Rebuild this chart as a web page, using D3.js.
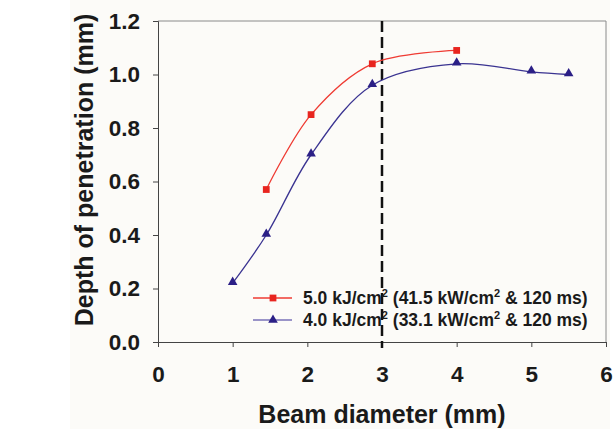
<!DOCTYPE html>
<html>
<head>
<meta charset="utf-8">
<script src="https://cdn.jsdelivr.net/npm/d3@7"></script>
<style>
body { margin: 0; background: #fff; }
text { font-family: "Liberation Sans", Arial, sans-serif; font-weight: bold; fill: #1a1a1a; }
</style>
</head>
<body>
<div class="chart"></div>
<script>
// data
var redX = [1.45, 2.05, 2.87, 4.0]
var redY = [0.57, 0.85, 1.04, 1.09]
var blueX = [1.0, 1.45, 2.05, 2.87, 4.0, 5.0, 5.5]
var blueY = [0.22, 0.40, 0.70, 0.96, 1.04, 1.01, 1.00]
var xTicks = [0, 1, 2, 3, 4, 5, 6]
var yTicks = [0, 0.2, 0.4, 0.6, 0.8, 1.0, 1.2]
var markLine = 3

var width = 613, height = 429
var pLeft = 158, pRight = 606, pTop = 21, pBottom = 342

var svg = d3.select(".chart").append("svg").attr("width", width).attr("height", height)

svg.append("rect").attr("x", 70).attr("y", 0).attr("width", 540).attr("height", height).attr("fill", "#fcfbf8")

var x = d3.scaleLinear().domain([0, 6]).range([pLeft, pRight])
var y = d3.scaleLinear().domain([0, 1.2]).range([pBottom, pTop])

// frame top / right
svg.append("path").attr("d", "M" + pLeft + "," + pTop + "H" + pRight + "V" + pBottom)
    .attr("fill", "none").attr("stroke", "#8a8a8a").attr("stroke-width", 1)

var xAxis = svg.append("g").attr("transform", "translate(0," + pBottom + ")")
    .call(d3.axisBottom(x).tickValues(xTicks).tickSize(5).tickPadding(19).tickFormat(d3.format("d")))
xAxis.selectAll("text").attr("font-size", "22.5px").attr("font-family", null)
xAxis.selectAll("path, line").attr("stroke", "#444")

var yAxis = svg.append("g").attr("transform", "translate(" + pLeft + ",0)")
    .call(d3.axisLeft(y).tickValues(yTicks).tickSize(5).tickPadding(13).tickFormat(d3.format(".1f")))
yAxis.selectAll("text").attr("font-size", "22.5px").attr("font-family", null)
yAxis.selectAll("path, line").attr("stroke", "#444")

// dashed line
svg.append("line").attr("x1", x(markLine)).attr("x2", x(markLine))
    .attr("y1", pTop).attr("y2", pBottom + 6)
    .attr("stroke", "#111").attr("stroke-width", 2.5).attr("stroke-dasharray", "11,5")

var line = d3.line().x(function(d){ return x(d[0]) }).y(function(d){ return y(d[1]) })
    .curve(d3.curveCatmullRom.alpha(0.5))

var red = d3.zip(redX, redY)
var blue = d3.zip(blueX, blueY)

svg.append("path").datum(red).attr("d", line).attr("fill", "none").attr("stroke", "#ef3b33").attr("stroke-width", 1.3)
svg.append("path").datum(blue).attr("d", line).attr("fill", "none").attr("stroke", "#3a3391").attr("stroke-width", 1.3)

var sq = d3.symbol().type(d3.symbolSquare).size(46)
var tri = d3.symbol().type(d3.symbolTriangle).size(40)

svg.selectAll(".sq").data(red).enter().append("path").attr("class", "sq")
    .attr("transform", function(d){ return "translate(" + x(d[0]) + "," + y(d[1]) + ")" })
    .attr("d", sq).attr("fill", "#e8251f")
svg.selectAll(".tri").data(blue).enter().append("path").attr("class", "tri")
    .attr("transform", function(d){ return "translate(" + x(d[0]) + "," + (y(d[1]) - 1) + ")" })
    .attr("d", tri).attr("fill", "#2b1f86")

// legend
var legend = [
    {label: ["5.0 kJ/cm", "2", " (41.5 kW/cm", "2", " & 120 ms)"], color: "#ef3b33", mark: "#e8251f", sym: sq},
    {label: ["4.0 kJ/cm", "2", " (33.1 kW/cm", "2", " & 120 ms)"], color: "#7a72b8", mark: "#2b1f86", sym: tri}
]
legend.forEach(function(l, i){
    var ly = 298 + i * 22
    svg.append("line").attr("x1", 253).attr("x2", 292).attr("y1", ly).attr("y2", ly)
        .attr("stroke", l.color).attr("stroke-width", 1.3)
    svg.append("path").attr("transform", "translate(273," + ly + ")").attr("d", l.sym).attr("fill", l.mark)
    var t = svg.append("text").attr("x", 303).attr("y", ly + 6).attr("font-size", "17.5px")
    l.label.forEach(function(s, j){
        var ts = t.append("tspan").text(s)
        if (j % 2 == 1) ts.attr("font-size", "11px").attr("dy", -7)
        else if (j > 0) ts.attr("dy", 7)
    })
})

// axis titles
svg.append("text").attr("x", x(3)).attr("y", 423).attr("text-anchor", "middle")
    .attr("font-size", "25px").text("Beam diameter (mm)")
svg.append("text").attr("transform", "translate(93,170) rotate(-90)").attr("text-anchor", "middle")
    .attr("font-size", "25px").text("Depth of penetration (mm)")
</script>
</body>
</html>
